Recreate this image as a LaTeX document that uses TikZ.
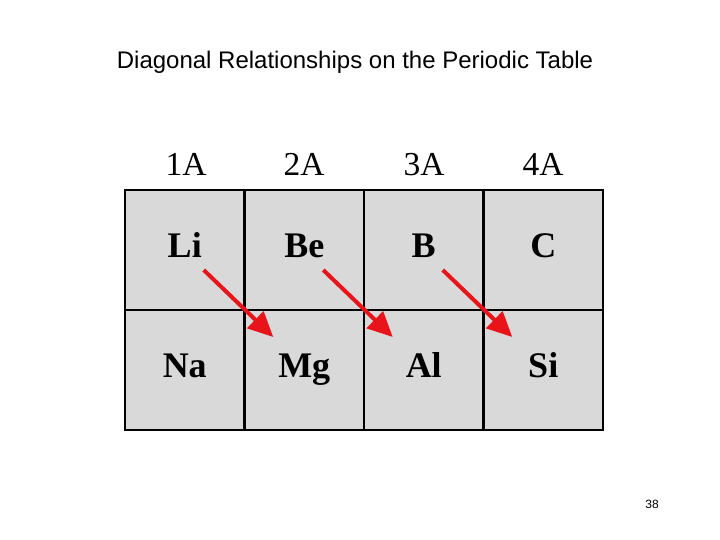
\documentclass[tikz,border=0pt]{standalone}
\usepackage{fontspec}
\setmainfont{Liberation Serif}
\newfontfamily\arialfont{Liberation Sans}
\usetikzlibrary{arrows.meta,calc}
\definecolor{cellgray}{HTML}{D9D9D9}
\definecolor{arrred}{HTML}{E8141A}
\tikzset{
  cellbox/.style={draw=black,line width=2.2pt,fill=cellgray,minimum width=119.5pt,minimum height=120pt,inner sep=0pt,text height=15pt,text depth=0pt,font=\fontsize{36}{38}\selectfont\bfseries},
  grouplabel/.style={inner sep=0pt,anchor=base,font=\fontsize{33.5}{35}\selectfont},
  diagarrow/.style={draw=arrred,line width=4pt,-{Triangle[length=25pt,width=23pt]}}
}
\begin{document}
\begin{tikzpicture}[x=1pt,y=-1pt]
\useasboundingbox (0,0) rectangle (720,540);
\node[inner sep=0pt,font=\arialfont\fontsize{24}{26}\selectfont] (title) at (355,62) {Diagonal Relationships on the Periodic Table};
\foreach \lab/\x in {1A/186,2A/304,3A/424,4A/543}{
  \node[grouplabel] (g\lab) at (\x,176) {\lab};
}
\node[cellbox] (li) at (184.75,250) {Li};
\node[cellbox] (be) at (304.25,250) {Be};
\node[cellbox] (b) at (423.75,250) {B};
\node[cellbox] (c) at (543.25,250) {C};
\node[cellbox] (na) at (184.75,370) {Na};
\node[cellbox] (mg) at (304.25,370) {Mg};
\node[cellbox] (al) at (423.75,370) {Al};
\node[cellbox] (si) at (543.25,370) {Si};
\draw[diagarrow] ($(li.center)+(19,20)$) -- ($(mg.center)+(-31,-33)$);
\draw[diagarrow] ($(be.center)+(19,20)$) -- ($(al.center)+(-31,-33)$);
\draw[diagarrow] ($(b.center)+(19,20)$) -- ($(si.center)+(-31,-33)$);
\node[inner sep=0pt,font=\arialfont\fontsize{12}{13}\selectfont] (page) at (652,504) {38};
\end{tikzpicture}
\end{document}
